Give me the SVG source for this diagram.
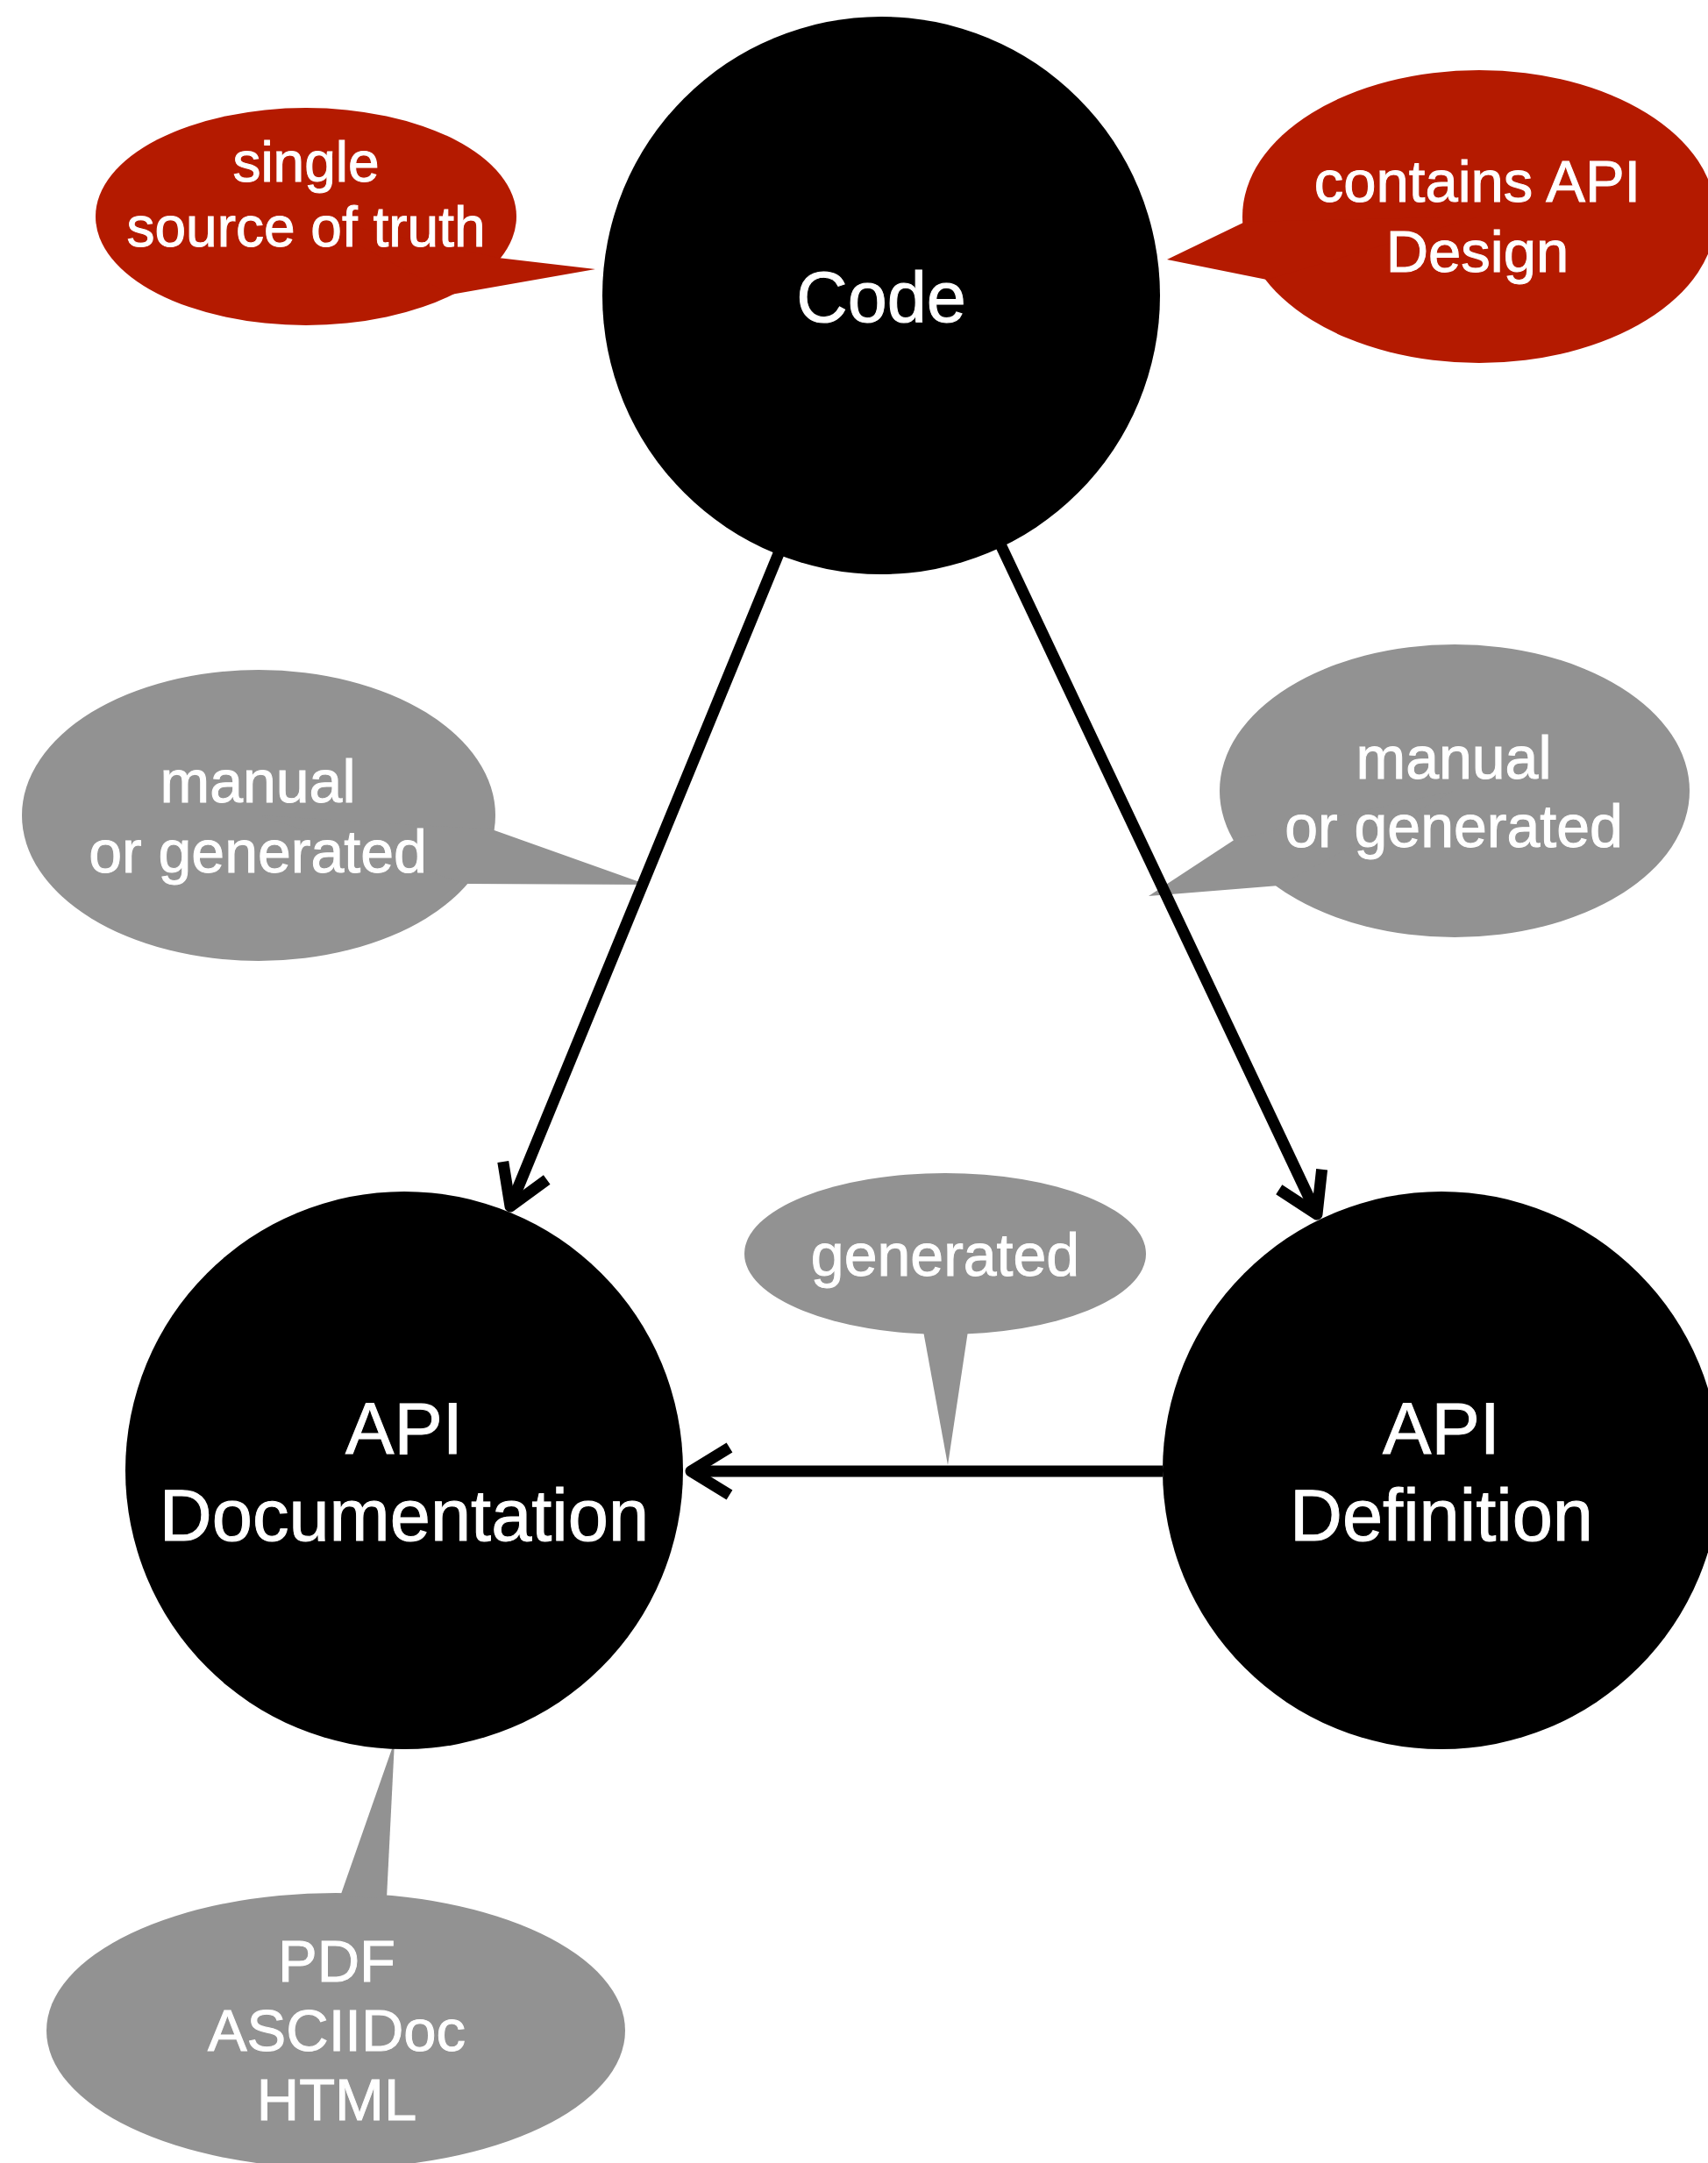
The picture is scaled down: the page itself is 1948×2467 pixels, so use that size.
<svg xmlns="http://www.w3.org/2000/svg" width="1948" height="2467" viewBox="0 0 1948 2467">
<style>
.node{fill:#000}
.red{fill:#B41A00}
.gray{fill:#929292}
text{font-family:"Liberation Sans",Arial,Helvetica,sans-serif;fill:#fff;stroke:#fff;stroke-width:1;text-anchor:middle}
.big{font-size:82px}
.lbl{font-size:67px}
.conn{stroke:#000;stroke-width:13;fill:none}
</style>
<defs>
<marker id="arrow" markerUnits="userSpaceOnUse" orient="auto" markerWidth="80" markerHeight="80" refX="0" refY="0" viewBox="-60 -40 80 80" overflow="visible">
<path d="M -44 -27 L 0 0 L -44 27" fill="none" stroke="#000" stroke-width="13" stroke-linejoin="round"/>
</marker>
</defs>
<rect width="1948" height="2467" fill="#fff"/>

<g id="callout-single-source">
<ellipse class="red" cx="349" cy="247" rx="240" ry="124"/>
<polygon class="red" points="349,247 568,294 679,307 514,336"/>
<text class="lbl" x="349" y="207" style="font-size:64px">single</text>
<text class="lbl" x="349" y="281" style="font-size:64px">source of truth</text>
</g>

<g id="callout-contains-api">
<ellipse class="red" cx="1687" cy="247" rx="270" ry="167"/>
<polygon class="red" points="1687,247 1420,253 1331,296 1445,319"/>
<text class="lbl" x="1685" y="230">contains API</text>
<text class="lbl" x="1685" y="310">Design</text>
</g>

<g id="callout-manual-left">
<ellipse class="gray" cx="295" cy="930" rx="270" ry="166"/>
<polygon class="gray" points="295,930 561,946 738,1009 530,1008"/>
<text class="lbl" x="294" y="915" style="font-size:68px">manual</text>
<text class="lbl" x="294" y="995" style="font-size:68px">or generated</text>
</g>

<g id="callout-manual-right">
<ellipse class="gray" cx="1659" cy="902" rx="268" ry="167"/>
<polygon class="gray" points="1659,902 1409,957 1310,1022 1459,1010"/>
<text class="lbl" x="1658" y="888" style="font-size:68px">manual</text>
<text class="lbl" x="1658" y="966" style="font-size:68px">or generated</text>
</g>

<g id="callout-generated">
<ellipse class="gray" cx="1078" cy="1430" rx="229" ry="92"/>
<polygon class="gray" points="1053,1518 1081,1671 1104,1518"/>
<text class="lbl" x="1078" y="1455" style="font-size:68px">generated</text>
</g>

<g id="callout-formats">
<ellipse class="gray" cx="383" cy="2316" rx="330" ry="157"/>
<polygon class="gray" points="388,2163 450,1986 441,2165"/>
<text class="lbl" x="384" y="2260">PDF</text>
<text class="lbl" x="384" y="2339">ASCIIDoc</text>
<text class="lbl" x="384" y="2418">HTML</text>
</g>

<g id="connectors">
<line class="conn" x1="889" y1="629" x2="582" y2="1376" marker-end="url(#arrow)"/>
<line class="conn" x1="1142" y1="623" x2="1502" y2="1385" marker-end="url(#arrow)"/>
<line class="conn" x1="1326" y1="1678" x2="788" y2="1678" marker-end="url(#arrow)"/>
</g>

<g id="node-code">
<circle class="node" cx="1005" cy="337" r="318"/>
<text class="big" x="1005" y="367" style="font-size:81px">Code</text>
</g>

<g id="node-api-documentation">
<circle class="node" cx="461" cy="1677" r="318"/>
<text class="big" x="461" y="1658" style="font-size:83px">API</text>
<text class="big" x="461" y="1757" style="font-size:83px">Documentation</text>
</g>

<g id="node-api-definition">
<circle class="node" cx="1644" cy="1677" r="318"/>
<text class="big" x="1644" y="1658" style="font-size:83px">API</text>
<text class="big" x="1644" y="1757" style="font-size:83px">Definition</text>
</g>
</svg>
